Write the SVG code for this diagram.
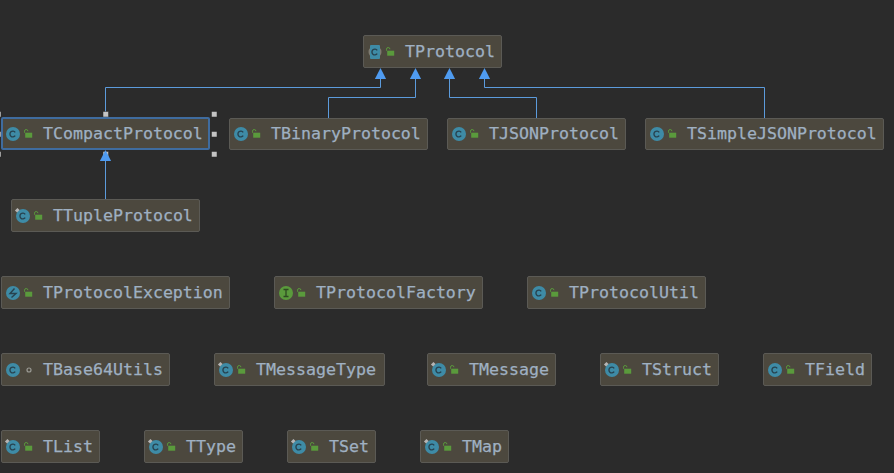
<svg xmlns="http://www.w3.org/2000/svg" width="894" height="473" viewBox="0 0 894 473">
<style>
.bg{fill:#2b2b2b}
.box{fill:#4c483e;stroke:#5b5a55;stroke-width:1}
.sel{fill:#4c483e;stroke:#3f6c9f;stroke-width:2}
.t{font-family:"DejaVu Sans Mono","Liberation Mono",monospace;font-size:16.6px;fill:#9fb0c2;stroke:#9fb0c2;stroke-width:.25}
.ci{fill:#3e8ba6}
.cg{fill:none;stroke:#27424f;stroke-width:1.4}
.lk{fill:#5a9a3c}
.ls{fill:none;stroke:#5a9a3c;stroke-width:1}
.pin{stroke:#b5b5b5;stroke-width:3;fill:none}
.c{fill:none;stroke:#5c9bdc;stroke-width:1}
.a{fill:#4f9bf0}
.h{fill:#c4c4c4;stroke:#2b2b2b;stroke-width:.5}
</style>
<defs>
<g id="lock"><rect x="-2.800" y="-1.300" width="7" height="5" class="lk"/><path d="M-3.500-1.300v-1.500a1.700 1.700 0 0 1 3.400 0" class="ls"/></g>
<g id="cls"><circle r="7" class="ci"/><path d="M2.200-1.700A2.900 2.900 0 1 0 2.200 1.700" class="cg"/></g>
<path id="pin" d="M-7-4.500L-4.500-7" class="pin"/>
</defs>
<rect class="bg" width="894" height="473"/>
<g id="connectors">
<path class="c" d="M105.500 118V87.500H380.500V78"/>
<path class="c" d="M328.500 118V97.500H415.500V78"/>
<path class="c" d="M536.500 118V97.500H449.500V78"/>
<path class="c" d="M764.500 118V87.500H484.500V78"/>
<path class="c" d="M105.500 199V160"/>
</g>
<g id="handles">
<rect class="h" x="103" y="111.500" width="5.500" height="5.500"/>
<rect class="h" x="211.500" y="111.500" width="5.500" height="5.500"/>
<rect class="h" x="211.500" y="131.500" width="5.500" height="5.500"/>
<rect class="h" x="211.500" y="151.500" width="5.500" height="5.500"/>
<rect class="h" x="-3" y="111.500" width="4" height="5.500"/>
<rect class="h" x="-3" y="131.500" width="4" height="5.500"/>
<rect class="h" x="-3" y="151.500" width="4" height="5.500"/>
<rect class="h" x="103" y="151.500" width="5.500" height="5.500"/>
</g>
<g id="arrowheads">
<path class="a" d="M380.500 68l5.600 11h-11.200z"/>
<path class="a" d="M415.500 68l5.600 11h-11.200z"/>
<path class="a" d="M449.500 68l5.600 11h-11.200z"/>
<path class="a" d="M484.500 68l5.600 11h-11.200z"/>
<path class="a" d="M105.500 150l5.600 11h-11.200z"/>
</g>
<g id="TProtocol"><rect class="box" x="363.500" y="35.500" width="138" height="32" rx="1.500"/><circle cx="375" cy="52" r="6.500" fill="#7d7a70"/><rect x="370" y="45" width="10" height="14" rx="1" class="ci"/><path d="M377.200 50.300A2.900 2.900 0 1 0 377.200 53.700" class="cg"/><use href="#lock" x="390" y="52"/><text class="t" x="405" y="57">TProtocol</text></g>
<g id="TCompactProtocol"><rect class="sel" x="2" y="118" width="207" height="31" rx="1"/><use href="#cls" x="13" y="134"/><use href="#lock" x="28" y="134"/><text class="t" x="43" y="139">TCompactProtocol</text></g>
<g id="TBinaryProtocol"><rect class="box" x="229.500" y="118.500" width="198" height="31" rx="1.500"/><use href="#cls" x="241" y="134"/><use href="#lock" x="256" y="134"/><text class="t" x="271" y="139">TBinaryProtocol</text></g>
<g id="TJSONProtocol"><rect class="box" x="447.500" y="118.500" width="178" height="31" rx="1.500"/><use href="#cls" x="459" y="134"/><use href="#lock" x="474" y="134"/><text class="t" x="489" y="139">TJSONProtocol</text></g>
<g id="TSimpleJSONProtocol"><rect class="box" x="645.500" y="118.500" width="238" height="31" rx="1.500"/><use href="#cls" x="657" y="134"/><use href="#lock" x="672" y="134"/><text class="t" x="687" y="139">TSimpleJSONProtocol</text></g>
<g id="TTupleProtocol"><rect class="box" x="11.500" y="199.500" width="188" height="32" rx="1.500"/><use href="#cls" x="23" y="216"/><use href="#pin" x="23" y="216"/><use href="#lock" x="38" y="216"/><text class="t" x="53" y="221">TTupleProtocol</text></g>
<g id="TProtocolException"><rect class="box" x="1.500" y="276.500" width="228" height="32" rx="1.500"/><circle cx="13" cy="293" r="7" class="ci"/><path d="M14.500 288.500L10 293.500H16L11.500 297.500" class="cg"/><use href="#lock" x="28" y="293"/><text class="t" x="43" y="298">TProtocolException</text></g>
<g id="TProtocolFactory"><rect class="box" x="274.500" y="276.500" width="208" height="32" rx="1.500"/><circle cx="286" cy="293" r="7" fill="#5a9a3c"/><path d="M283.500 289.500h5M286 289.500v7M283.500 296.500h5" fill="none" stroke="#2f4a22" stroke-width="1.300"/><use href="#lock" x="301" y="293"/><text class="t" x="316" y="298">TProtocolFactory</text></g>
<g id="TProtocolUtil"><rect class="box" x="527.500" y="276.500" width="178" height="32" rx="1.500"/><use href="#cls" x="539" y="293"/><use href="#lock" x="554" y="293"/><text class="t" x="569" y="298">TProtocolUtil</text></g>
<g id="TBase64Utils"><rect class="box" x="1.500" y="353.500" width="168" height="32" rx="1.500"/><use href="#cls" x="13" y="370"/><circle cx="29" cy="370" r="2" fill="none" stroke="#9a9a94" stroke-width="1.200"/><text class="t" x="43" y="375">TBase64Utils</text></g>
<g id="TMessageType"><rect class="box" x="214.500" y="353.500" width="170" height="32" rx="1.500"/><use href="#cls" x="226" y="370"/><use href="#pin" x="226" y="370"/><use href="#lock" x="241" y="370"/><text class="t" x="256" y="375">TMessageType</text></g>
<g id="TMessage"><rect class="box" x="427.500" y="353.500" width="128" height="32" rx="1.500"/><use href="#cls" x="439" y="370"/><use href="#pin" x="439" y="370"/><use href="#lock" x="454" y="370"/><text class="t" x="469" y="375">TMessage</text></g>
<g id="TStruct"><rect class="box" x="600.500" y="353.500" width="118" height="32" rx="1.500"/><use href="#cls" x="612" y="370"/><use href="#pin" x="612" y="370"/><use href="#lock" x="627" y="370"/><text class="t" x="642" y="375">TStruct</text></g>
<g id="TField"><rect class="box" x="763.500" y="353.500" width="108" height="32" rx="1.500"/><use href="#cls" x="775" y="370"/><use href="#lock" x="790" y="370"/><text class="t" x="805" y="375">TField</text></g>
<g id="TList"><rect class="box" x="1.500" y="430.500" width="98" height="32" rx="1.500"/><use href="#cls" x="13" y="447"/><use href="#pin" x="13" y="447"/><use href="#lock" x="28" y="447"/><text class="t" x="43" y="452">TList</text></g>
<g id="TType"><rect class="box" x="144.500" y="430.500" width="98" height="32" rx="1.500"/><use href="#cls" x="156" y="447"/><use href="#pin" x="156" y="447"/><use href="#lock" x="171" y="447"/><text class="t" x="186" y="452">TType</text></g>
<g id="TSet"><rect class="box" x="287.500" y="430.500" width="88" height="32" rx="1.500"/><use href="#cls" x="299" y="447"/><use href="#pin" x="299" y="447"/><use href="#lock" x="314" y="447"/><text class="t" x="329" y="452">TSet</text></g>
<g id="TMap"><rect class="box" x="420.500" y="430.500" width="88" height="32" rx="1.500"/><use href="#cls" x="432" y="447"/><use href="#pin" x="432" y="447"/><use href="#lock" x="447" y="447"/><text class="t" x="462" y="452">TMap</text></g>
</svg>
